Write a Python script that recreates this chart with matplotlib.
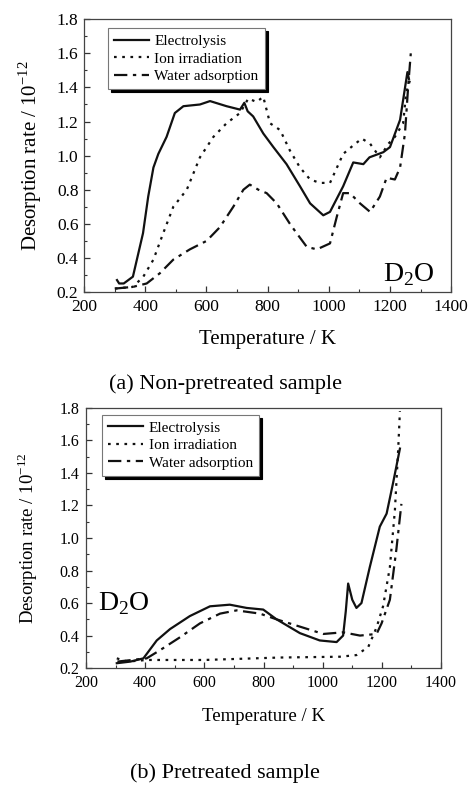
import matplotlib
matplotlib.use("Agg")
import matplotlib.pyplot as plt
from matplotlib.ticker import MultipleLocator, FormatStrFormatter

plt.rcParams["font.family"] = ["Liberation Serif", "DejaVu Serif"]
plt.rcParams["mathtext.fontset"] = "custom"
plt.rcParams["mathtext.rm"] = "Liberation Serif"

# (a) non-pretreated sample
a_elec_T = [308, 315, 330, 360, 393, 410, 427, 443, 470, 497, 525, 579, 612, 666, 710, 724,
            735, 753, 786, 819, 862, 906, 939, 982, 1004, 1047, 1080, 1113, 1133, 1178, 1200,
            1233, 1257, 1262]
a_elec_v = [0.27, 0.25, 0.25, 0.29, 0.545, 0.76, 0.93, 1.01, 1.11, 1.25, 1.29, 1.30, 1.32, 1.29,
            1.27, 1.31, 1.26, 1.23, 1.13, 1.05, 0.95, 0.82, 0.72, 0.65, 0.67, 0.82, 0.96, 0.95,
            0.99, 1.02, 1.05, 1.21, 1.49, 1.45]

a_ion_T = [301, 360, 394, 427, 459, 492, 536, 579, 623, 666, 710, 737, 764, 786, 808, 841, 873,
           906, 939, 971, 1004, 1047, 1080, 1108, 1135, 1167, 1195, 1216, 1243, 1253, 1265]
a_ion_v = [0.22, 0.23, 0.29, 0.39, 0.545, 0.70, 0.80, 0.99, 1.11, 1.19, 1.25, 1.335, 1.315,
           1.345, 1.19, 1.15, 1.03, 0.93, 0.86, 0.84, 0.84, 1.01, 1.06, 1.10, 1.07, 0.99, 1.07,
           1.11, 1.19, 1.37, 1.44]

a_wat_T = [301, 360, 405, 448, 492, 546, 601, 644, 688, 721, 742, 770, 797, 830, 873, 895, 928,
           961, 1004, 1026, 1047, 1069, 1102, 1135, 1167, 1189, 1216, 1233, 1249, 1260, 1268]
a_wat_v = [0.22, 0.23, 0.25, 0.31, 0.39, 0.45, 0.50, 0.58, 0.70, 0.80, 0.83, 0.80, 0.78, 0.72,
           0.60, 0.545, 0.465, 0.45, 0.485, 0.64, 0.78, 0.78, 0.72, 0.67, 0.76, 0.87, 0.86, 0.93,
           1.13, 1.42, 1.60]

# (b) pretreated sample
b_elec_T = [304, 350, 394, 439, 484, 551, 619, 686, 743, 799, 844, 923, 990, 1047, 1069, 1078,
            1086, 1100, 1114, 1131, 1159, 1193, 1216, 1238, 1261]
b_elec_v = [0.23, 0.24, 0.26, 0.37, 0.44, 0.52, 0.58, 0.59, 0.57, 0.56, 0.50, 0.415, 0.37, 0.36,
            0.40, 0.55, 0.72, 0.62, 0.57, 0.60, 0.82, 1.07, 1.15, 1.34, 1.55]

b_ion_T = [304, 340, 405, 600, 855, 1058, 1114, 1154, 1182, 1204, 1227, 1244, 1255, 1261]
b_ion_v = [0.26, 0.24, 0.25, 0.25, 0.265, 0.27, 0.28, 0.33, 0.45, 0.58, 0.82, 1.17, 1.54, 1.78]

b_wat_T = [306, 405, 450, 518, 585, 653, 709, 788, 844, 923, 1002, 1069, 1126, 1182, 1199, 1227,
           1249, 1266]
b_wat_v = [0.24, 0.26, 0.31, 0.39, 0.475, 0.535, 0.555, 0.535, 0.50, 0.455, 0.41, 0.42, 0.40,
           0.41, 0.475, 0.62, 0.93, 1.21]

labels = ["Electrolysis", "Ion irradiation", "Water adsorption"]
styles = ["-", (0, (1.2, 2.5)), (0, (6, 2.5, 1.5, 2.5))]

fig = plt.figure(figsize=(4.69, 7.86), dpi=100)
ax_a = fig.add_axes([0.179, 0.6285, 0.783, 0.347])
ax_b = fig.add_axes([0.1834, 0.150, 0.757, 0.331])


def style_axes(ax, tick_fs, label_fs, xpad, ypad, xlabelpad, ylabelpad):
    ax.set_xlim(200, 1400)
    ax.set_ylim(0.2, 1.8)
    ax.xaxis.set_major_locator(MultipleLocator(200))
    ax.xaxis.set_minor_locator(MultipleLocator(100))
    ax.yaxis.set_major_locator(MultipleLocator(0.2))
    ax.yaxis.set_minor_locator(MultipleLocator(0.1))
    ax.yaxis.set_major_formatter(FormatStrFormatter("%.1f"))
    ax.tick_params(which="both", direction="in", top=False, right=False,
                   labelsize=tick_fs, color="#333333")
    ax.tick_params(axis="x", pad=xpad)
    ax.tick_params(axis="y", pad=ypad)
    ax.tick_params(which="major", length=4, width=0.9)
    ax.tick_params(which="minor", length=2.5, width=0.8)
    for s in ax.spines.values():
        s.set_linewidth(0.9)
        s.set_color("#444444")
    ax.set_xlabel("Temperature / K", fontsize=label_fs, labelpad=xlabelpad)
    ax.set_ylabel(r"Desorption rate / 10$^{-12}$", fontsize=label_fs, labelpad=ylabelpad)


def draw(ax, series, leg_fs, anchor):
    for (T, v), lab, ls in zip(series, labels, styles):
        ax.plot(T, v, color="#111111", lw=1.6, ls=ls, label=lab)
    leg = ax.legend(loc="upper left", fontsize=leg_fs, frameon=True, fancybox=False,
                    shadow={"color": "black", "alpha": 1.0}, handlelength=2.3,
                    handletextpad=0.35, borderpad=0.4, labelspacing=0.25,
                    bbox_to_anchor=anchor, borderaxespad=0)
    leg.get_frame().set_edgecolor("#777777")
    leg.get_frame().set_linewidth(0.8)


style_axes(ax_a, 12.5, 15, 5, 4, 11, 9)
draw(ax_a, [(a_elec_T, a_elec_v), (a_ion_T, a_ion_v), (a_wat_T, a_wat_v)], 11, (0.065, 0.967))
ax_a.text(0.955, 0.015, r"D$_2$O", transform=ax_a.transAxes, ha="right", va="bottom", fontsize=20)

style_axes(ax_b, 11.5, 13.5, 5, 5, 12, 14)
draw(ax_b, [(b_elec_T, b_elec_v), (b_ion_T, b_ion_v), (b_wat_T, b_wat_v)], 11, (0.045, 0.973))
ax_b.text(0.035, 0.195, r"D$_2$O", transform=ax_b.transAxes, ha="left", va="bottom", fontsize=20)

fig.text(0.48, 0.511, "(a) Non-pretreated sample", ha="center", va="center", fontsize=16)
fig.text(0.48, 0.017, "(b) Pretreated sample", ha="center", va="center", fontsize=16)

fig.savefig("out.png", dpi=100)
